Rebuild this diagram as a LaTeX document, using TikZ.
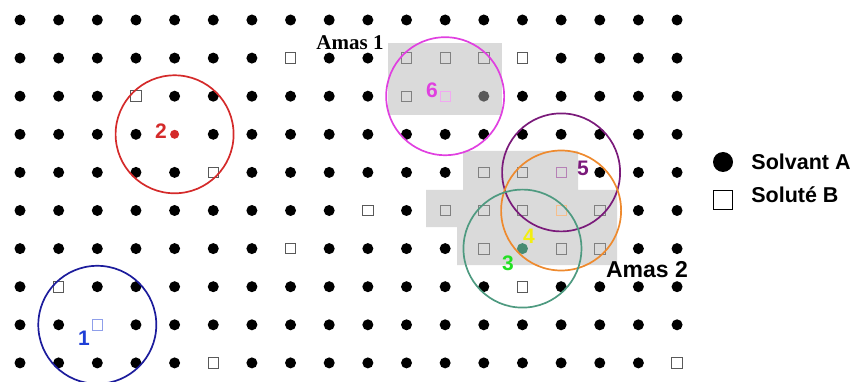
\documentclass[tikz,border=0pt]{standalone}
\usepackage{fontspec}
\setmainfont{Liberation Serif}
\setsansfont{Liberation Sans}
\usetikzlibrary{positioning}

\definecolor{rouge}{HTML}{D42A2A}
\definecolor{bleu}{HTML}{1C1C9C}
\definecolor{bleuclair}{HTML}{1F3FD6}
\definecolor{magentasix}{HTML}{E040E0}
\definecolor{violetcinq}{HTML}{7A1A7A}
\definecolor{orangequatre}{HTML}{EE8A2E}
\definecolor{jaunequatre}{HTML}{F2EE10}
\definecolor{verttrois}{HTML}{4E9A80}
\definecolor{vertclair}{HTML}{22E022}
\definecolor{grisamas}{HTML}{DADADA}

% cases sans solvant (colonne-ligne)
\newcommand{\vide}[1]{\expandafter\gdef\csname vide#1\endcsname{}}

\begin{document}
\begin{tikzpicture}[
        x=1pt, y=-1pt,
        % Styles
        solvant/.style={circle, fill=black, inner sep=0pt, minimum size=11pt},
        solute/.style={rectangle, draw=black!65, line width=0.9pt, inner sep=0pt, minimum size=10.5pt},
        zone/.style={circle, line width=1.7pt, inner sep=0pt, minimum size=118pt},
        numero/.style={font=\sffamily\bfseries\fontsize{21}{21}\selectfont, inner sep=0pt},
        amas/.style={fill=grisamas},
        legende/.style={font=\sffamily\bfseries\fontsize{21.5}{21.5}\selectfont, inner sep=0pt}
    ]
        \useasboundingbox (0,0) rectangle (859,382);

        % Grille
        \foreach \c in {0,...,17}
            \foreach \r in {0,...,9}
                \coordinate (p\c-\r) at ({20+38.65*\c},{20+38.1*\r});

        % Amas (fond gris)
        \fill[amas] (388,43) rectangle (502,115);
        \fill[amas] (463,151) -| (578,190) -| (617,265) -| (457,227) -| (426,190) -| (463,151) -- cycle;

        % Solvant A
        \foreach \p in {7-1,13-1,3-2,5-4,9-5,7-6,1-7,13-7,5-9,17-9,
                        10-1,11-1,12-1,10-2,12-4,13-4,11-5,12-5,13-5,15-5,12-6,14-6,15-6,
                        11-2,14-4,14-5,2-8,12-2,13-6,4-3}
            {\vide{\p}}
        \foreach \c in {0,...,17}
            \foreach \r in {0,...,9}{
                \ifcsname vide\c-\r\endcsname\else
                    \node (s\c-\r) [solvant] at (p\c-\r) {};
                \fi
            }
        \node (s12-2) [solvant, fill=black!65] at (p12-2) {};
        \node (s13-6) [solvant, fill=verttrois!90!black] at (p13-6) {};
        \node (s4-3) [solvant, fill=rouge, minimum size=9pt] at (p4-3) {};

        % Soluté B
        \foreach \c/\r in {7/1,13/1,3/2,5/4,9/5,7/6,1/7,13/7,5/9,17/9}
            \node (b\c-\r) [solute] at (p\c-\r) {};
        \foreach \c/\r in {10/1,11/1,12/1,10/2,12/4,13/4,11/5,12/5,13/5,15/5,12/6,14/6,15/6}
            \node (b\c-\r) [solute, draw=black!50, line width=0.7pt] at (p\c-\r) {};
        \node (b11-2) [solute, draw=magentasix!45, line width=0.7pt] at (p11-2) {};
        \node (b14-4) [solute, draw=violetcinq!55, line width=0.7pt] at (p14-4) {};
        \node (b14-5) [solute, draw=orangequatre!55, line width=0.7pt] at (p14-5) {};
        \node (b2-8) [solute, draw=bleuclair!50, line width=0.7pt] at (p2-8) {};

        % Zones de voisinage
        \node (zone1) [zone, draw=bleu] at (p2-8) {};
        \node (zone2) [zone, draw=rouge] at (p4-3) {};
        \node (zone6) [zone, draw=magentasix] at (p11-2) {};
        \node (zone5) [zone, draw=violetcinq] at (p14-4) {};
        \node (zone4) [zone, draw=orangequatre, minimum size=120pt] at (p14-5) {};
        \node (zone3) [zone, draw=verttrois] at (p13-6) {};

        % Numeros
        \node (n1) [numero, text=bleuclair] at (84,338) {1};
        \node (n2) [numero, text=rouge] at (161,131) {2};
        \node (n3) [numero, text=vertclair] at (508,263) {3};
        \node (n4) [numero, text=jaunequatre] at (529,236) {4};
        \node (n5) [numero, text=violetcinq] at (583,168) {5};
        \node (n6) [numero, text=magentasix] at (432,90) {6};

        % Noms des amas
        \node (amas1) [font=\bfseries\fontsize{21}{21}\selectfont, inner sep=0pt] at (350,43) {Amas 1};
        \node (amas2) [font=\sffamily\fontsize{23}{23}\selectfont, inner sep=0pt] at (647,270) {\textbf{Amas 2}};

        % Legende
        \node (legA) [solvant, minimum size=20pt] at (723,162) {};
        \node (txtA) [legende, right=18pt of legA] {Solvant A};
        \node (legB) [solute, minimum size=19pt, draw=black, line width=1.2pt] at (723,200) {};
        \node (txtB) [legende, right=18pt of legB, yshift=5pt] {Soluté B};

    \end{tikzpicture}
\end{document}
